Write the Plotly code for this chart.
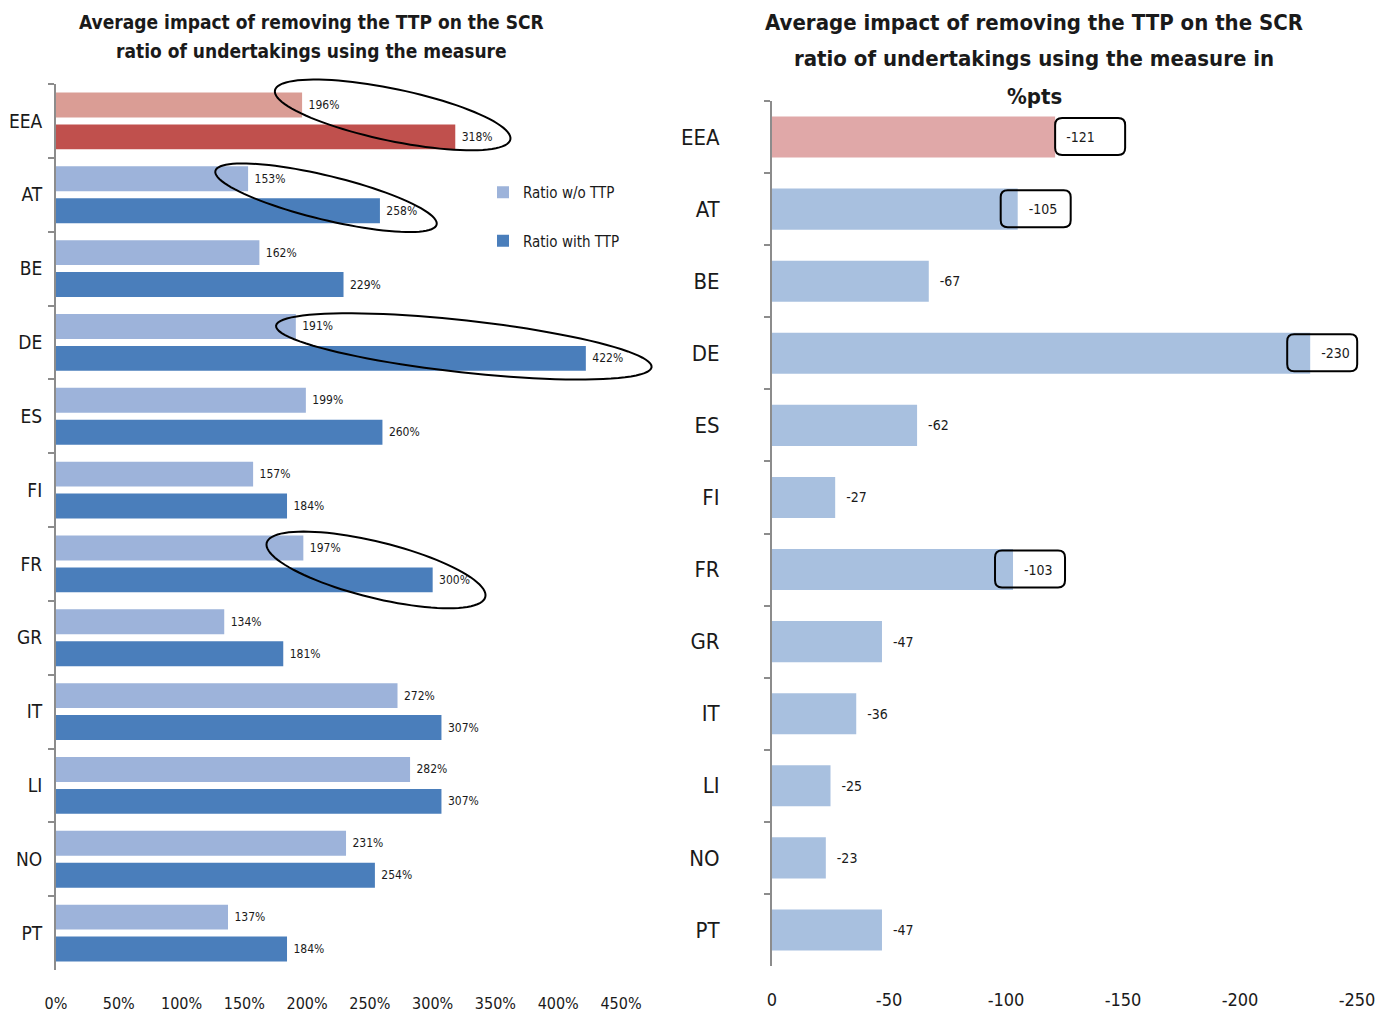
import math
import plotly.graph_objects as go

# --- data -------------------------------------------------------------------
countries = ["EEA", "AT", "BE", "DE", "ES", "FI", "FR", "GR", "IT", "LI", "NO", "PT"]
ratio_without_ttp = [196, 153, 162, 191, 199, 157, 197, 134, 272, 282, 231, 137]
ratio_with_ttp = [318, 258, 229, 422, 260, 184, 300, 181, 307, 307, 254, 184]
impact_pts = [-121, -105, -67, -230, -62, -27, -103, -47, -36, -25, -23, -47]
highlighted = ["EEA", "AT", "DE", "FR"]

left_ticks = [0, 50, 100, 150, 200, 250, 300, 350, 400, 450]
left_tick_text = ["0%", "50%", "100%", "150%", "200%", "250%", "300%", "350%", "400%", "450%"]
right_ticks = [0, -50, -100, -150, -200, -250]
right_tick_text = ["0", "-50", "-100", "-150", "-200", "-250"]

left_title = ["Average impact of removing the TTP on the SCR",
              "ratio of undertakings using the measure"]
right_title = ["Average impact of removing the TTP on the SCR",
               "ratio of undertakings using the measure in",
               "%pts"]

# --- styling ------------------------------------------------------------------
W, H = 1375, 1014
NARROW = "Noto Sans ExtraCondensed, Noto Sans Condensed, DejaVu Sans Condensed, sans-serif"
TXT = "#1a1a1a"
AXIS_GREY = "#8c8c8c"
BLUE_LIGHT = "#9DB3DA"
BLUE_DARK = "#4A7EBB"
RED_LIGHT = "#DA9D95"
RED_DARK = "#C0504D"
R_BLUE = "#A8C0DF"
R_PINK = "#E0A8A8"
NBSP = "\u00a0"

# plot areas in pixels (left, right, top, bottom)
L_BOX = (56, 621, 84, 970)
R_BOX = (772, 1357, 101, 966)

# ellipse tweaks (centre shift in px, extra half-length, half-width) per highlighted row
ELLIPSE_STYLE = {"EEA": (-7, -6, 42, 26), "AT": (-9, 3, 46, 22),
                 "DE": (2, 4, 43, 26), "FR": (-13, 6, 46, 28)}
# horizontal offset of the rounded label box centre from the bar end, px
BOX_OFFSET = {"EEA": 35, "AT": 18, "DE": 12, "FR": 17}


def dom_x(box):
    return [box[0] / W, box[1] / W]


def dom_y(box):
    return [1 - box[3] / H, 1 - box[2] / H]


def px(x):
    return x / W


def py(y):
    return 1 - y / H


def left_xpx(v):
    return L_BOX[0] + (L_BOX[1] - L_BOX[0]) * v / 450.0


def left_row(i):
    band = (L_BOX[3] - L_BOX[2]) / len(countries)
    return L_BOX[2] + band * (i + 0.5)


def right_xpx(v):
    return R_BOX[0] + (R_BOX[1] - R_BOX[0]) * (v / -250.0)


def right_row(i):
    band = (R_BOX[3] - R_BOX[2]) / len(countries)
    return R_BOX[2] + band * (i + 0.5)


fig = go.Figure()

# --- left panel: ratio without / with TTP -----------------------------------------
bar_w = 0.338
label_font = dict(family=NARROW, size=12, color=TXT)


def ratio_bar(cats, vals, color, offset, **kw):
    return go.Bar(
        y=cats, x=vals, orientation="h",
        marker=dict(color=color, line=dict(width=0)), width=bar_w, offset=offset,
        text=[f"{NBSP}{v}%" for v in vals], textposition="outside",
        textfont=label_font, constraintext="none", cliponaxis=False,
        xaxis="x", yaxis="y", **kw)


others = countries[1:]
fig.add_trace(ratio_bar(others, ratio_without_ttp[1:], BLUE_LIGHT, -0.385,
                        name="Ratio w/o TTP", legendgroup="a"))
fig.add_trace(ratio_bar(others, ratio_with_ttp[1:], BLUE_DARK, 0.047,
                        name="Ratio with TTP", legendgroup="b"))
fig.add_trace(ratio_bar(countries[:1], ratio_without_ttp[:1], RED_LIGHT, -0.385, showlegend=False))
fig.add_trace(ratio_bar(countries[:1], ratio_with_ttp[:1], RED_DARK, 0.047, showlegend=False))

# --- right panel: impact in %pts ---------------------------------------------------
fig.add_trace(go.Bar(
    y=countries, x=impact_pts, orientation="h", showlegend=False,
    marker=dict(color=[R_PINK] + [R_BLUE] * (len(countries) - 1), line=dict(width=0)),
    width=0.57, offset=-0.285,
    text=[f"{NBSP}{NBSP}{v}" for v in impact_pts], textposition="outside",
    textfont=dict(family=NARROW, size=14, color=TXT), constraintext="none",
    cliponaxis=False, xaxis="x2", yaxis="y2"))

# --- highlight ellipses around the left-panel labels ---------------------------------
shapes = []
for c in highlighted:
    i = countries.index(c)
    yc = left_row(i)
    sx, sy, pad, b = ELLIPSE_STYLE[c]
    x1, y1 = left_xpx(ratio_without_ttp[i]) + 21, yc - 16
    x2, y2 = left_xpx(ratio_with_ttp[i]) + 21, yc + 16
    cx, cy = (x1 + x2) / 2 + sx, (y1 + y2) / 2 + sy
    ang = math.atan2(y2 - y1, x2 - x1)
    a = math.hypot(x2 - x1, y2 - y1) / 2 + pad
    pts = []
    for k in range(97):
        t = 2 * math.pi * k / 96
        ex, ey = a * math.cos(t), b * math.sin(t)
        rx = cx + ex * math.cos(ang) - ey * math.sin(ang)
        ry = cy + ex * math.sin(ang) + ey * math.cos(ang)
        pts.append(f"{px(rx):.5f},{py(ry):.5f}")
    shapes.append(dict(type="path", xref="paper", yref="paper",
                       path="M " + " L ".join(pts) + " Z",
                       line=dict(color="black", width=2), fillcolor="rgba(0,0,0,0)"))

# --- rounded boxes around highlighted right-panel labels -----------------------------
for c in highlighted:
    i = countries.index(c)
    yc = right_row(i)
    bx = right_xpx(impact_pts[i]) + BOX_OFFSET[c]
    x0, x1 = bx - 35, bx + 35
    y0, y1 = yc - 19, yc + 18
    r = 7
    segs = [
        ("M", (x0 + r, y0)), ("L", (x1 - r, y0)), ("Q", (x1, y0), (x1, y0 + r)),
        ("L", (x1, y1 - r)), ("Q", (x1, y1), (x1 - r, y1)), ("L", (x0 + r, y1)),
        ("Q", (x0, y1), (x0, y1 - r)), ("L", (x0, y0 + r)), ("Q", (x0, y0), (x0 + r, y0)),
    ]
    parts = [s[0] + " " + " ".join(f"{px(u):.5f},{py(v):.5f}" for u, v in s[1:]) for s in segs]
    shapes.append(dict(type="path", xref="paper", yref="paper", path=" ".join(parts) + " Z",
                       line=dict(color="black", width=2), fillcolor="rgba(0,0,0,0)"))

# --- titles, one annotation per line ---------------------------------------------------
annotations = []
for line, ypix in zip(left_title, [22, 51]):
    annotations.append(dict(text=f"<b>{line}</b>", x=px(311), y=py(ypix), xref="paper", yref="paper",
                            xanchor="center", yanchor="middle", showarrow=False,
                            font=dict(family=NARROW, size=19, color=TXT)))
for line, ypix in zip(right_title, [22, 59, 96]):
    annotations.append(dict(text=f"<b>{line}</b>", x=px(1034), y=py(ypix), xref="paper", yref="paper",
                            xanchor="center", yanchor="middle", showarrow=False,
                            font=dict(family=NARROW, size=22, color=TXT)))

fig.update_layout(
    width=W, height=H,
    margin=dict(l=0, r=0, t=0, b=0),
    paper_bgcolor="white", plot_bgcolor="white",
    barmode="overlay",
    showlegend=True,
    legend=dict(x=px(483), y=py(176), xanchor="left", yanchor="top",
                font=dict(family=NARROW, size=15, color=TXT),
                traceorder="grouped", tracegroupgap=26, itemwidth=30,
                bgcolor="rgba(0,0,0,0)"),
    shapes=shapes,
    annotations=annotations,
    xaxis=dict(domain=dom_x(L_BOX), range=[0, 450], tickvals=left_ticks, ticktext=left_tick_text,
               showgrid=False, zeroline=False, showline=False, automargin=False,
               ticks="outside", ticklen=19, tickcolor="rgba(0,0,0,0)", ticklabeloverflow="allow",
               tickfont=dict(family=NARROW, size=16, color=TXT), anchor="y"),
    yaxis=dict(domain=dom_y(L_BOX), type="category", categoryorder="array",
               categoryarray=countries, autorange="reversed",
               showgrid=False, zeroline=False, showline=True, linecolor=AXIS_GREY, linewidth=2,
               ticks="outside", tickson="boundaries", ticklen=6, tickcolor=AXIS_GREY, tickwidth=2,
               ticklabelstandoff=8, automargin=False,
               tickfont=dict(family=NARROW, size=19, color=TXT), anchor="x"),
    xaxis2=dict(domain=dom_x(R_BOX), range=[0, -250], tickvals=right_ticks, ticktext=right_tick_text,
                showgrid=False, zeroline=False, showline=False, automargin=False,
                ticks="outside", ticklen=17, tickcolor="rgba(0,0,0,0)", ticklabeloverflow="allow",
                tickfont=dict(family=NARROW, size=18, color=TXT), anchor="y2"),
    yaxis2=dict(domain=dom_y(R_BOX), type="category", categoryorder="array",
                categoryarray=countries, autorange="reversed",
                showgrid=False, zeroline=False, showline=True, linecolor=AXIS_GREY, linewidth=2,
                ticks="outside", tickson="boundaries", ticklen=6, tickcolor=AXIS_GREY, tickwidth=2,
                ticklabelstandoff=46, automargin=False,
                tickfont=dict(family=NARROW, size=22, color=TXT), anchor="x2"),
)

fig.write_html("out.html")
